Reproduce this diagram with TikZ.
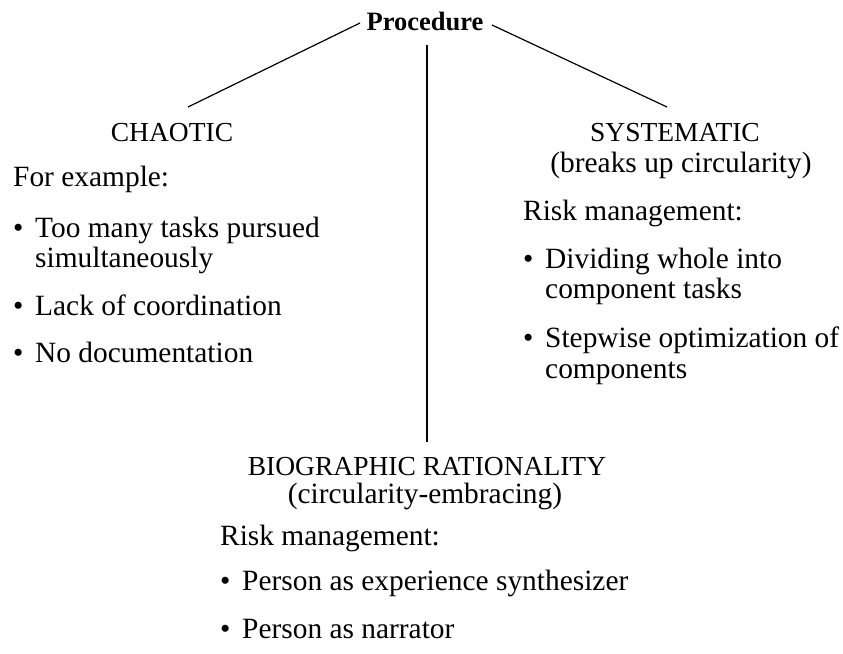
\documentclass[tikz,border=0pt]{standalone}
\usepackage{fontspec}
\setmainfont{Liberation Serif}
\begin{document}
\begin{tikzpicture}[x=1pt,y=-1pt,
  body/.style={inner sep=0pt,anchor=base west,font=\fontsize{29.4}{31}\selectfont},
  head/.style={inner sep=0pt,anchor=base,font=\fontsize{27.5}{30}\selectfont},
  sub/.style={inner sep=0pt,anchor=base,font=\fontsize{29.4}{31}\selectfont},
  conn/.style={line width=1.2pt,black}]
\useasboundingbox (0,0) rectangle (843,653);
\newcommand{\bul}{\makebox[22pt][l]{•}}
% title
\node[inner sep=0pt,anchor=base,font=\bfseries\fontsize{26.5}{30}\selectfont] (proc) at (425,30) {Procedure};
% left column
\node[head] (chaotic) at (172,141) {CHAOTIC};
\node[body] (fe) at (13,186) {For example:};
\node[body] (l1a) at (13,237) {\bul Too many tasks pursued};
\node[body] (l1b) at (35,267) {simultaneously};
\node[body] (l2) at (13,315) {\bul Lack of coordination};
\node[body] (l3) at (13,362) {\bul No documentation};
% right column
\node[head] (syst) at (675,141) {SYSTEMATIC};
\node[sub] (systsub) at (681,172) {(breaks up circularity)};
\node[body] (rm1) at (523,220) {Risk management:};
\node[body] (r1a) at (523,268) {\bul Dividing whole into};
\node[body] (r1b) at (545,298) {component tasks};
\node[body] (r2a) at (523,347) {\bul Stepwise optimization of};
\node[body] (r2b) at (545,378) {components};
% bottom
\node[head] (bio) at (427,475) {BIOGRAPHIC RATIONALITY};
\node[sub] (biosub) at (425,503) {(circularity-embracing)};
\node[body] (rm2) at (220,545) {Risk management:};
\node[body] (b1) at (220,590) {\bul Person as experience synthesizer};
\node[body] (b2) at (220,638) {\bul Person as narrator};
% connectors
\coordinate (pl) at (360,23);
\coordinate (pr) at (492,25);
\coordinate (pb) at (427,45);
\coordinate (cl) at (188,107);
\coordinate (cr) at (667,107);
\coordinate (cb) at (427,442);
\draw[conn] (pl) -- (cl);
\draw[conn] (pr) -- (cr);
\draw[conn] (pb) -- (cb);
\end{tikzpicture}
\end{document}
